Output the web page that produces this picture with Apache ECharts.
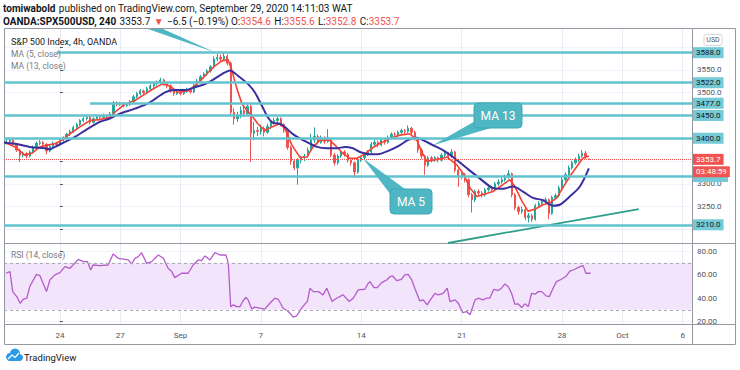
<!DOCTYPE html>
<html><head><meta charset="utf-8">
<script src="https://cdn.jsdelivr.net/npm/echarts@6/dist/echarts.min.js"></script>
<style>html,body{margin:0;padding:0;background:#fff}#c{width:740px;height:370px}</style>
</head><body><div id="c"></div>
<script>
// x unit = 4h bar index, counted from the first bar of Mon Aug 24 (6 bars per trading day)
const tickBars = [0, 18, 36, 60, 90, 120, 150, 168, 186];
const tickLabels = ['24', '27', 'Sep', '7', '14', '21', '28', 'Oct', '6'];
const priceTicks = [3200, 3250, 3300, 3350, 3400, 3450, 3500, 3550, 3600];
const priceLabels = [3250, 3300, 3500, 3550];   // the axis labels not hidden behind level tags
const rsiTicks = [20, 40, 60, 80];
const firstBar = -16;
// [open, close, low, high]
const candles = [
[3390,3393,3386,3398],[3393,3396,3390,3400],[3396,3387,3384,3399],[3387,3374,3370,3389],
[3374,3363,3348,3377],[3363,3367,3358,3371],[3367,3361,3356,3369],[3361,3370,3358,3373],
[3370,3380,3367,3384],[3380,3389,3377,3393],[3389,3391,3385,3396],[3391,3387,3383,3394],
[3387,3372,3365,3389],[3372,3383,3369,3386],[3383,3389,3380,3393],[3389,3387,3382,3392],
[3387,3396,3384,3399],[3396,3400,3392,3404],[3400,3409,3397,3412],[3409,3415,3405,3419],[3415,3424,3412,3428],
[3424,3430,3420,3434],[3430,3439,3427,3442],[3439,3443,3435,3447],[3443,3446,3439,3450],[3446,3435,3430,3449],
[3435,3443,3432,3446],[3443,3448,3440,3452],[3448,3446,3441,3451],[3446,3450,3443,3454],[3450,3448,3444,3453],
[3448,3454,3445,3458],[3454,3478,3452,3482],[3478,3474,3470,3481],[3474,3476,3471,3480],[3476,3472,3468,3479],
[3472,3474,3469,3478],[3474,3480,3471,3484],[3480,3491,3477,3495],[3491,3498,3488,3502],[3498,3504,3494,3508],
[3504,3500,3496,3507],[3500,3509,3497,3513],[3509,3515,3506,3519],[3515,3520,3511,3524],[3520,3524,3516,3527],
[3524,3528,3519,3533],[3528,3520,3516,3531],[3520,3515,3510,3523],[3515,3504,3500,3518],[3504,3498,3493,3507],
[3498,3502,3495,3506],[3502,3498,3494,3505],[3498,3504,3495,3508],[3504,3507,3500,3511],[3507,3502,3498,3510],
[3502,3517,3499,3520],[3517,3526,3513,3530],[3526,3535,3522,3539],[3535,3541,3531,3545],[3541,3548,3537,3552],
[3548,3557,3544,3561],[3557,3574,3554,3580],[3574,3578,3569,3586],[3578,3574,3568,3584],[3574,3580,3570,3589],
[3580,3565,3560,3584],[3565,3457,3450,3568],[3457,3443,3430,3466],[3443,3450,3436,3458],[3450,3461,3444,3470],
[3461,3454,3447,3473],[3454,3470,3450,3477],[3470,3411,3348,3474],[3411,3417,3396,3436],[3417,3415,3405,3425],
[3415,3422,3408,3430],[3422,3413,3404,3426],[3413,3426,3410,3432],[3426,3435,3420,3440],[3435,3439,3430,3445],
[3439,3443,3433,3447],[3443,3430,3426,3446],[3430,3418,3412,3433],[3418,3380,3375,3421],[3380,3350,3342,3384],
[3350,3335,3330,3355],[3335,3352,3298,3356],[3352,3357,3345,3362],[3357,3361,3350,3366],[3361,3374,3357,3380],
[3374,3396,3370,3410],[3396,3404,3390,3424],[3404,3391,3386,3408],[3391,3400,3388,3406],[3400,3393,3388,3404],
[3393,3396,3390,3420],[3396,3363,3358,3400],[3363,3346,3340,3368],[3346,3361,3342,3365],[3361,3370,3357,3374],
[3370,3365,3360,3374],[3365,3352,3347,3368],[3352,3346,3340,3356],[3346,3326,3313,3349],[3326,3352,3322,3356],
[3352,3357,3348,3362],[3357,3365,3353,3369],[3365,3370,3361,3374],[3370,3387,3366,3392],[3387,3391,3383,3396],
[3391,3385,3380,3395],[3385,3396,3382,3400],[3396,3391,3386,3399],[3391,3402,3388,3406],[3402,3409,3398,3413],
[3409,3407,3402,3413],[3407,3413,3403,3417],[3413,3417,3409,3421],[3417,3415,3410,3420],[3415,3422,3412,3428],
[3422,3413,3408,3425],[3413,3400,3395,3417],[3400,3374,3368,3403],[3374,3361,3355,3378],[3361,3341,3320,3364],
[3341,3357,3337,3361],[3357,3352,3347,3361],[3352,3357,3348,3361],[3357,3352,3347,3360],[3352,3363,3349,3367],
[3363,3367,3359,3371],[3367,3361,3356,3370],[3361,3370,3357,3376],[3370,3330,3325,3373],[3330,3317,3293,3334],
[3317,3320,3310,3325],[3320,3309,3303,3324],[3309,3276,3270,3312],[3276,3265,3237,3280],[3265,3283,3260,3287],
[3283,3280,3275,3288],[3280,3276,3270,3284],[3276,3287,3272,3291],[3287,3291,3283,3295],[3291,3287,3282,3294],
[3287,3300,3284,3304],[3300,3304,3296,3310],[3304,3309,3300,3314],[3309,3315,3305,3320],[3315,3322,3311,3330],
[3322,3276,3270,3325],[3276,3248,3242,3280],[3248,3239,3232,3252],[3239,3243,3234,3250],[3243,3226,3220,3247],
[3226,3230,3215,3236],[3230,3222,3216,3234],[3222,3252,3219,3256],[3252,3257,3248,3262],[3257,3261,3252,3266],
[3261,3265,3256,3270],[3265,3235,3222,3268],[3235,3270,3232,3274],[3270,3274,3266,3279],[3274,3291,3270,3296],
[3291,3309,3287,3314],[3309,3320,3305,3325],[3320,3335,3316,3340],[3335,3346,3331,3351],[3346,3352,3342,3358],
[3352,3361,3348,3366],[3361,3367,3357,3374],[3367,3360.2,3355,3372],[3354.6,3353.7,3352.8,3355.6]
];
// [bar, value] readings of the indicator lines
const ma5 = [[-16.7,3392],[-13.4,3381],[-10.5,3363],[-8.4,3367],[-6,3381],[-3.9,3385],[-1.5,3388],[0.6,3396],[3,3410],[6,3425],[9,3439],[11.9,3441],[14.9,3446],[17,3461],[19.4,3475],[22.4,3483],[25.4,3497],[28.4,3511],[30.5,3519],[32.9,3515],[35.2,3501],[38.2,3504],[40.3,3515],[42.4,3530],[44.2,3544],[46.3,3559],[48.4,3570],[50.2,3573],[51.4,3548],[52.9,3508],[54.4,3475],[55.9,3461],[57.3,3450],[59.1,3432],[61.2,3417],[63.3,3425],[65.7,3432],[67.2,3421],[69.3,3385],[71.7,3358],[73.8,3359],[75.6,3381],[77.7,3396],[80.6,3396],[82.7,3381],[84.5,3367],[86.6,3356],[88.7,3356],[90.5,3363],[93.2,3378],[95.6,3389],[98.6,3399],[101.6,3407],[104.5,3410],[106.6,3396],[108.1,3370],[109.6,3349],[111.4,3352],[114.4,3356],[115.6,3359],[118.6,3341],[120.4,3323],[122.5,3291],[124.5,3272],[126.3,3276],[129.3,3283],[132.3,3298],[134.4,3309],[135.9,3294],[138,3262],[139.8,3240],[141.9,3244],[144.3,3254],[146.4,3258],[148.4,3269],[150.2,3291],[152.3,3316],[154.4,3338],[156.2,3356],[158,3361]];
const ma13 = [[-16.7,3390],[-13.4,3388],[-9,3381],[-4.5,3378],[-3,3376],[-1.5,3381],[1.5,3392],[4.5,3403],[7.5,3417],[11.9,3436],[14.9,3443],[17.9,3454],[22.4,3465],[26.9,3479],[31.4,3501],[34.3,3506],[37.3,3506],[40.3,3512],[44.2,3522],[48.4,3541],[50.8,3549],[53.2,3537],[56.2,3519],[58.2,3501],[60.3,3472],[62.1,3446],[63.6,3434],[65.7,3432],[67.8,3421],[69.6,3409],[72.6,3396],[76.8,3381],[79.7,3378],[82.7,3378],[85.1,3381],[87.5,3378],[89.6,3370],[92.6,3365],[95,3365],[98.6,3374],[101.6,3385],[103.9,3396],[106.6,3401],[108.4,3396],[111.4,3385],[114.4,3374],[117.4,3359],[121.6,3334],[125.4,3312],[129.3,3291],[132.3,3289],[135.3,3294],[138.3,3283],[141.3,3269],[144.3,3264],[147.3,3252],[149.3,3254],[152.3,3272],[155.3,3294],[158,3334]];
const rsi = [[-16.1,61.1],[-14.9,62.5],[-14.1,45.5],[-12.9,41.3],[-11.9,35.6],[-11,39],[-9.9,39.9],[-9,49.8],[-7,60.2],[-6,59.1],[-4,45.5],[-3,55.4],[-1.5,59.7],[0,61.6],[1.5,66.7],[3,65.3],[5.5,72.9],[7,71],[8.2,71],[9.2,63.9],[9.9,68.1],[11.9,67.6],[14.4,68.1],[15.9,77.5],[17.4,73.8],[19.4,72.9],[20.4,72.4],[21.4,69],[22.4,73.8],[23.4,75.2],[24.4,78.6],[25.9,69.5],[27.4,71],[29.4,76.6],[30.9,73.8],[32.3,65.3],[33.4,62.5],[34.3,57.4],[36.3,61.1],[38.3,61.1],[39.8,68.1],[41.3,72.4],[42.3,71.8],[43.3,75.8],[44.8,72.4],[46.3,78.6],[47.8,76.6],[49.6,76.6],[50.3,69.5],[51,32.8],[51.8,34.2],[52.8,32.8],[53.8,32.8],[54.6,37.1],[55.6,40.7],[56.2,38.5],[57.3,30.8],[58.2,32.3],[59.7,31.4],[61.2,30.6],[62.7,35.6],[64.2,39.9],[65.2,39],[66.7,31.4],[68.2,28.6],[69.7,23.8],[70.7,24.9],[72.2,31.4],[73.2,35.1],[73.9,37.1],[74.7,48.4],[75.7,45.5],[77.2,45.5],[78.6,42.7],[79.7,48.4],[81.3,37.1],[82.6,39.9],[84.6,42.7],[86.4,37.1],[87.6,39.9],[89.1,47],[91.1,47.5],[92.1,52.6],[92.6,54],[93.8,48.9],[94.8,48.9],[96.1,53.2],[97.6,55.4],[98.6,58.2],[99.4,58.8],[100.6,54.9],[102,56],[103,59.7],[104,60.2],[105,56],[106,48.4],[107.5,37.6],[108.5,38.5],[109.7,34.2],[110.5,37.9],[112,44.1],[113,42.7],[114.5,44.1],[115.7,48.4],[116.5,37.1],[118,38.5],[119,35.6],[120.3,27.7],[121.5,28.6],[122.5,25.8],[124,38.5],[124.9,39.9],[126.4,38.5],[127.4,39.9],[128.4,39.9],[129.6,47.5],[130.9,46.4],[131.9,48.4],[132.9,52],[133.9,49.8],[134.9,44.1],[135.9,34.8],[136.9,35.1],[137.9,32],[138.9,35.1],[139.9,32.8],[140.9,44.1],[141.9,43.3],[142.9,45.5],[143.9,45.5],[145.2,41.9],[146.2,41.3],[147.3,48.4],[148.3,54],[149.8,56],[151.3,58.8],[152.3,63],[153.8,64.5],[155.3,66.7],[156.3,67.6],[157.1,61.1],[158.5,61.1]];
const levels = [3588, 3522, 3477, 3450, 3400, 3317, 3210];
const levelStartBar = [-0.9, null, 9, null, null, null, null];
const levelTagHidden = [false, false, false, false, false, true, false]; // 3317 tag sits behind the countdown
const lastPrice = 3353.7;
const countdown = '03:48:59';
const trendLine = [[115.9, 3170], [172.9, 3244.6]];
const ma13Tip = [111.4, 3384.8];
const ma5Tip = [90.5, 3356];
const peakTip = [46.6, 3588];

const X_MIN = -16.7, X_MAX = 188.8;
const FONT = 'Roboto, "Noto Sans", sans-serif';
const AX = '#50535e';
const TAG = '#74cad6';
const chart = echarts.init(document.getElementById('c'), null, {renderer: 'svg'});

const candleData = candles.map((r, k) => [firstBar + k].concat(r));
const levelLabel = {show: true, position: 'end', distance: 1, backgroundColor: TAG, color: '#131722',
  padding: [2, 3, 1, 3], fontSize: 8, fontFamily: FONT};
const markData = levels.map((v, k) => {
  const lab = levelTagHidden[k] ? {show: false} : Object.assign({}, levelLabel, {formatter: v.toFixed(1)});
  if (levelStartBar[k] != null) return [{coord: [levelStartBar[k], v], label: lab}, {coord: [X_MAX, v]}];
  return {yAxis: v, label: lab};
});
markData.push({yAxis: lastPrice, lineStyle: {color: '#ef5350', type: 'dotted', width: 1},
  label: Object.assign({}, levelLabel, {backgroundColor: '#f05350', color: '#fff', formatter: lastPrice.toFixed(1)})});

const xBase = {type: 'value', min: X_MIN, max: X_MAX, axisLine: {show: false},
  axisTick: {show: false, customValues: tickBars}, splitLine: {show: true, lineStyle: {color: '#e6eef3', width: 1}}};

chart.setOption({
  animation: false,
  grid: [{left: 4, right: 48, top: 29, height: 214}, {left: 4, right: 48, top: 243, height: 81}],
  xAxis: [
    Object.assign({gridIndex: 0, axisLabel: {show: false}}, xBase),
    Object.assign({gridIndex: 1, axisLabel: {show: true, customValues: tickBars, margin: 7, color: AX, fontSize: 8, fontFamily: FONT,
      formatter: v => tickLabels[tickBars.indexOf(v)]}}, xBase)
  ],
  yAxis: [
    {gridIndex: 0, type: 'value', position: 'right', min: 3170, max: 3640, axisLine: {show: false},
     axisTick: {show: true, length: 3, customValues: priceTicks, lineStyle: {color: AX}},
     axisLabel: {customValues: priceLabels, formatter: v => v.toFixed(1), color: AX, fontSize: 8, fontFamily: FONT, margin: 5},
     splitLine: {show: true, lineStyle: {color: '#f0f3f7'}}},
    {gridIndex: 1, type: 'value', position: 'right', min: 18, max: 86.8, axisLine: {show: false},
     axisTick: {show: true, length: 3, customValues: rsiTicks, lineStyle: {color: AX}},
     axisLabel: {customValues: rsiTicks, formatter: v => v.toFixed(2), color: AX, fontSize: 8, fontFamily: FONT, margin: 5},
     splitLine: {show: true, lineStyle: {color: '#f0f3f7'}}}
  ],
  series: [
    {type: 'candlestick', xAxisIndex: 0, yAxisIndex: 0, data: candleData, barWidth: 1.8,
     itemStyle: {color: '#26a69a', color0: '#ef5350', borderColor: '#26a69a', borderColor0: '#ef5350', borderWidth: 1},
     markLine: {silent: true, symbol: ['none', 'none'], animation: false,
       lineStyle: {color: '#62c3cf', width: 2.5, type: 'solid'}, data: markData}},
    {type: 'line', name: 'MA5', xAxisIndex: 0, yAxisIndex: 0, data: ma5, showSymbol: false, z: 3,
     lineStyle: {color: '#f44336', width: 1.6}},
    {type: 'line', name: 'MA13', xAxisIndex: 0, yAxisIndex: 0, data: ma13, showSymbol: false, smooth: 0.3, z: 3,
     lineStyle: {color: '#3b2f9e', width: 2}},
    {type: 'line', name: 'trend', xAxisIndex: 0, yAxisIndex: 0, data: trendLine, showSymbol: false, z: 4,
     lineStyle: {color: '#2e9e8c', width: 1.8}},
    {type: 'line', name: 'RSI', xAxisIndex: 1, yAxisIndex: 1, data: rsi, showSymbol: false, z: 3,
     lineStyle: {color: '#b55ccb', width: 1.3},
     markArea: {silent: true, itemStyle: {color: '#f2e4fb'}, data: [[{yAxis: 30}, {yAxis: 70}]]},
     markLine: {silent: true, symbol: ['none', 'none'], label: {show: false},
       lineStyle: {color: '#a9acb3', type: [3, 3], width: 1}, data: [{yAxis: 70}, {yAxis: 30}]}}
  ]
});

const px = p => chart.convertToPixel({xAxisIndex: 0, yAxisIndex: 0}, p);
const t13 = px(ma13Tip), t5 = px(ma5Tip), tPk = px(peakTip);
const yLast = px([0, lastPrice])[1];
const yHid = px([0, levels[5]])[1];
const FR = '#9598a1';
const txt = (x, y, text, size, fill, extra) => ({type: 'text', x: x, y: y, z: 40,
  style: Object.assign({text: text, fontSize: size, fontFamily: FONT, fill: fill, verticalAlign: 'middle'}, extra || {})});
const CALL = '#4fb7c3';
chart.setOption({graphic: [
  {type: 'rect', z: 1, silent: true, shape: {x: 4.5, y: 28.5, width: 731, height: 316}, style: {fill: 'none', stroke: FR, lineWidth: 1}},
  {type: 'line', z: 1, shape: {x1: 4.5, y1: 243.5, x2: 735.5, y2: 243.5}, style: {stroke: FR, lineWidth: 1}},
  {type: 'line', z: 1, shape: {x1: 4.5, y1: 324.5, x2: 735.5, y2: 324.5}, style: {stroke: FR, lineWidth: 1}},
  {type: 'line', z: 1, shape: {x1: 692.5, y1: 28.5, x2: 692.5, y2: 344.5}, style: {stroke: FR, lineWidth: 1}},
  // header
  {type: 'text', x: 3, y: 8, z: 40, style: {text: '{b|tomiwabold} {n|published on TradingView.com, September 29, 2020 14:11:03 WAT}',
    verticalAlign: 'middle', rich: {b: {fontWeight: 'bold', fontSize: 10, fontFamily: FONT, fill: '#131722'}, n: {fontSize: 10, fontFamily: FONT, fill: '#131722'}}}},
  {type: 'text', x: 3, y: 21, z: 40, style: {text: '{b|OANDA:SPX500USD, 240} {n|3353.7} {r|▼} {n|−6.5 (−0.19%) O:}{r|3354.6} {n|H:}{r|3355.6} {n|L:}{r|3352.8} {n|C:}{r|3353.7}',
    verticalAlign: 'middle', rich: {b: {fontWeight: 'bold', fontSize: 10, fontFamily: FONT, fill: '#131722'}, n: {fontSize: 10, fontFamily: FONT, fill: '#131722'}, r: {fontSize: 10, fontFamily: FONT, fill: '#ef5350'}}}},
  // pane legends
  txt(11, 42, 'S&P 500 Index, 4h, OANDA', 9, '#131722'),
  txt(11, 54, 'MA (5, close)', 8.5, '#787b86'),
  txt(11, 66, 'MA (13, close)', 8.5, '#787b86'),
  txt(11, 255, 'RSI (14, close)', 8.5, '#787b86'),
  // USD badge
  {type: 'rect', z: 20, shape: {x: 704, y: 34.5, width: 18, height: 11, r: 2}, style: {fill: '#fff', stroke: '#c9cbd1', lineWidth: 0.8}},
  txt(713, 40.2, 'USD', 7, AX, {align: 'center'}),
  // level tag behind the countdown, then the countdown under the last price
  {type: 'rect', z: 28, shape: {x: 693, y: yHid - 6, width: 35, height: 12}, style: {fill: TAG}},
  {type: 'text', x: 693, y: yLast + 12.5, z: 30, style: {text: countdown, fontSize: 8, fontFamily: FONT, fill: '#fff',
    backgroundColor: '#f05350', padding: [2, 3, 1, 3], verticalAlign: 'middle'}},
  // callouts
  {type: 'polygon', z: 25, shape: {points: [[tPk[0], tPk[1]], [148, 29], [163, 29]]}, style: {fill: CALL}},
  {type: 'polygon', z: 25, shape: {points: [t13, [477, 120], [491, 128]]}, style: {fill: CALL}},
  {type: 'rect', z: 25, shape: {x: 474, y: 103, width: 48, height: 25, r: 4}, style: {fill: CALL, stroke: '#3ea8b4', lineWidth: 1}},
  txt(498, 115.5, 'MA 13', 12, '#fff', {align: 'center'}),
  {type: 'polygon', z: 25, shape: {points: [t5, [391, 195], [405, 189]]}, style: {fill: CALL}},
  {type: 'rect', z: 25, shape: {x: 390, y: 189, width: 42, height: 25, r: 4}, style: {fill: CALL, stroke: '#3ea8b4', lineWidth: 1}},
  txt(411, 201.5, 'MA 5', 12, '#fff', {align: 'center'}),
  // TradingView logo
  {type: 'circle', z: 20, shape: {cx: 10, cy: 357, r: 4}, style: {fill: '#2b9be8'}},
  {type: 'circle', z: 20, shape: {cx: 15, cy: 353.5, r: 5}, style: {fill: '#2b9be8'}},
  {type: 'circle', z: 20, shape: {cx: 19.5, cy: 357.5, r: 3.5}, style: {fill: '#2b9be8'}},
  {type: 'rect', z: 20, shape: {x: 10, y: 357, width: 10, height: 4}, style: {fill: '#2b9be8'}},
  {type: 'polyline', z: 21, shape: {points: [[8, 359], [12, 355], [15, 357.5], [19, 353]]}, style: {stroke: '#fff', lineWidth: 1.2, fill: 'none'}},
  txt(24, 357, 'TradingView', 9.5, '#131722')
]});
</script>
</body></html>
